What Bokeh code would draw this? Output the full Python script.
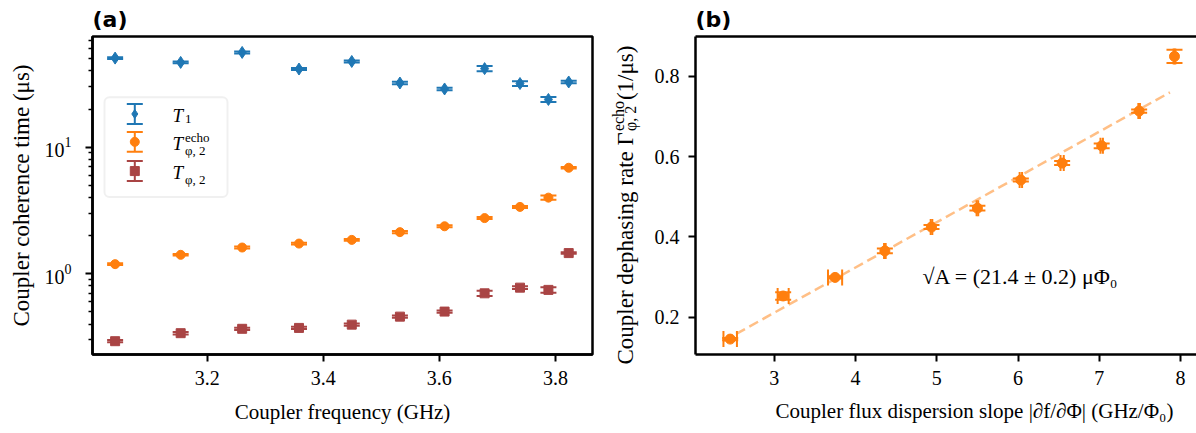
import numpy as np
from bokeh.plotting import figure
from bokeh.models import (Whisker, TeeHead, ColumnDataSource, FixedTicker, Label, BoxAnnotation,
                          Range1d, LinearAxis, Title)
from bokeh.layouts import row
from bokeh.embed import file_html
from bokeh.resources import INLINE

# ---------------- data: panel (a) ----------------
freq_ghz = [3.041, 3.154, 3.260, 3.358, 3.449, 3.532, 3.609, 3.678, 3.739, 3.788, 3.823]
t1_us = [50.5, 46.7, 56.0, 41.4, 47.5, 32.1, 28.8, 41.7, 31.8, 23.8, 32.7]
t1_err = [0.8, 0.8, 1.0, 0.8, 0.8, 0.7, 0.6, 2.0, 1.4, 1.1, 0.7]
techo_us = [1.19, 1.41, 1.61, 1.73, 1.85, 2.13, 2.37, 2.75, 3.37, 3.99, 6.87]
techo_err = [0.02, 0.02, 0.03, 0.03, 0.03, 0.04, 0.04, 0.05, 0.06, 0.15, 0.09]
tphi_us = [0.293, 0.339, 0.367, 0.373, 0.396, 0.458, 0.502, 0.700, 0.776, 0.745, 1.455]
tphi_err = [0.006, 0.008, 0.008, 0.008, 0.008, 0.010, 0.010, 0.032, 0.020, 0.038, 0.020]

# ---------------- data: panel (b) ----------------
slope_ghz_phi0 = [2.457, 3.109, 3.748, 4.361, 4.935, 5.500, 6.035, 6.543, 7.030, 7.491, 7.926]
slope_err = [0.083, 0.068, 0.087, 0.010, 0.010, 0.010, 0.015, 0.020, 0.015, 0.010, 0.010]
rate_inv_us = [0.1454, 0.2527, 0.299, 0.365, 0.4244, 0.4715, 0.5416, 0.5837, 0.6267, 0.7133, 0.8495]
rate_err = [0.003, 0.0095, 0.003, 0.006, 0.005, 0.006, 0.004, 0.005, 0.006, 0.004, 0.0165]
fit_slope = 0.1127
fit_intercept = -0.127
fit_x_ends = [2.37, 7.87]

a_xticks = [3.2, 3.4, 3.6, 3.8]
a_yticks = [1, 10]
a_yminor = [0.3, 0.4, 0.5, 0.6, 0.7, 0.8, 0.9, 2, 3, 4, 5, 6, 7, 8, 9, 20, 30, 40, 50, 60, 70]
b_xticks = [3, 4, 5, 6, 7, 8]
b_yticks = [0.2, 0.4, 0.6, 0.8]

SERIF = "Liberation Serif"
C_T1 = "#1f77b4"
C_ECHO = "#ff7f0e"
C_PHI = "#a94444"

H = 433
A_W = 605
A_L, A_R, A_T, A_B = 92, 592, 35, 354
S_X0, S_W = 605, 40          # strip holding the rotated y label of panel (b)
B_X0 = S_X0 + S_W
B_W = 1196 - B_X0
B_L, B_R, B_T, B_B = 695, 1196, 35, 355

XA = (3.002, 3.864)
YA = (0.230, 74.8)
XB = (2.03, 8.197)
YB = (0.107, 0.899)


def ax(px):
    return XA[0] + (px - A_L) / (A_R - A_L) * (XA[1] - XA[0])


def ay(py):
    lo, hi = np.log10(YA[0]), np.log10(YA[1])
    return 10 ** (lo + (A_B - py) / (A_B - A_T) * (hi - lo))


def bx(px):
    return XB[0] + (px - B_L) / (B_R - B_L) * (XB[1] - XB[0])


def by(py):
    return YB[0] + (B_B - py) / (B_B - B_T) * (YB[1] - YB[0])


def style(p):
    p.grid.visible = False
    p.background_fill_color = "white"
    p.border_fill_color = "white"
    for a in p.axis:
        a.axis_line_color = "black"
        a.axis_line_width = 2.5
        a.major_tick_out = 7
        a.major_tick_in = 0
        a.major_tick_line_width = 2
        a.minor_tick_out = 4
        a.minor_tick_in = 0
        a.minor_tick_line_width = 1.5
        a.major_label_text_font = SERIF
        a.major_label_text_font_size = "20px"
        a.major_label_text_color = "black"
        a.major_label_standoff = 9
        a.axis_label_text_font = SERIF
        a.axis_label_text_font_size = "21px"
        a.axis_label_text_font_style = "normal"
        a.axis_label_text_color = "black"
    p.title.text_font = "DejaVu Sans"
    p.title.text_font_style = "bold"
    p.title.text_font_size = "22px"
    p.title.text_color = "black"
    p.title.align = "left"
    p.title.standoff = 9
    p.title.offset = 0


def lab(p, x, y, text, size, style_="normal", angle=0.0, font=SERIF, align="left", baseline="alphabetic"):
    p.add_layout(Label(x=x, y=y, text=text, text_font=font, text_font_size=f"{size}px",
                       text_font_style=style_, angle=angle, text_align=align,
                       text_baseline=baseline, text_color="black"))


def errbars(p, xs, ys, err, color, dim):
    xs = np.asarray(xs, float)
    ys = np.asarray(ys, float)
    err = np.asarray(err, float)
    if dim == "height":
        src = ColumnDataSource(dict(base=xs, lo=ys - err, hi=ys + err))
    else:
        src = ColumnDataSource(dict(base=ys, lo=xs - err, hi=xs + err))
    p.add_layout(Whisker(source=src, base="base", upper="hi", lower="lo", dimension=dim,
                         line_color=color, line_width=2, level="underlay",
                         upper_head=TeeHead(size=16, line_color=color, line_width=2),
                         lower_head=TeeHead(size=16, line_color=color, line_width=2)))


# ================= panel (a) =================
pa = figure(width=A_W, height=H, x_range=Range1d(*XA), y_range=Range1d(*YA), y_axis_type="log",
            output_backend="svg", toolbar_location=None, title="(a)",
            min_border_left=A_L, min_border_right=A_W - A_R, min_border_top=A_T, min_border_bottom=H - A_B)
style(pa)
pa.outline_line_color = "black"
pa.outline_line_width = 2.5
pa.outline_line_alpha = 1
pa.xaxis.ticker = FixedTicker(ticks=a_xticks)
pa.yaxis.ticker = FixedTicker(ticks=a_yticks, minor_ticks=a_yminor)
pa.xaxis.axis_label = "Coupler frequency (GHz)"
pa.yaxis.axis_label = "Coupler coherence time (μs)"
pa.yaxis.axis_label_text_font_size = "23px"
pa.yaxis.major_label_standoff = 14
pa.yaxis.axis_label_standoff = 8
pa.xaxis.axis_label_standoff = 12

pa.add_layout(BoxAnnotation(left=ax(104), right=ax(227), top=ay(96), bottom=ay(196),
                            fill_color="white", fill_alpha=0.8, line_color="#cccccc",
                            line_width=2, border_radius=5, level="underlay"))

errbars(pa, freq_ghz, t1_us, t1_err, C_T1, "height")
errbars(pa, freq_ghz, techo_us, techo_err, C_ECHO, "height")
errbars(pa, freq_ghz, tphi_us, tphi_err, C_PHI, "height")
pa.scatter(freq_ghz, t1_us, marker="diamond", size=12, color=C_T1)
pa.scatter(freq_ghz, techo_us, marker="circle", size=9, color=C_ECHO)
pa.scatter(freq_ghz, tphi_us, marker="square", size=9, color=C_PHI)

# legend samples
leg_x = ax(134.3)
leg_y = [112.7, 140.7, 170.0]
leg_cols = [C_T1, C_ECHO, C_PHI]
leg_marks = ["diamond", "circle", "square"]
for yy, cc, mm in zip(leg_y, leg_cols, leg_marks):
    src = ColumnDataSource(dict(base=[leg_x], lo=[ay(yy + 10)], hi=[ay(yy - 10)]))
    pa.add_layout(Whisker(source=src, base="base", upper="hi", lower="lo", dimension="height",
                          line_color=cc, line_width=2, level="underlay",
                          upper_head=TeeHead(size=16, line_color=cc, line_width=2),
                          lower_head=TeeHead(size=16, line_color=cc, line_width=2)))
    pa.scatter([leg_x], [ay(yy)], marker=mm, size=9, color=cc)

tx = ax(172.0)
sx = ax(184.5)
lab(pa, tx, ay(114.5), "T", 19, "italic")
lab(pa, sx, ay(118.0), "1", 13)
lab(pa, tx, ay(142.5), "T", 19, "italic")
lab(pa, sx, ay(136.0), "echo", 13)
lab(pa, sx, ay(149.5), "φ, 2", 13)
lab(pa, tx, ay(171.0), "T", 19, "italic")
lab(pa, sx, ay(178.5), "φ, 2", 13)

# ================= strip with rotated y label of panel (b) =================
ps = figure(frame_width=S_W, frame_height=H, x_range=Range1d(S_X0, S_X0 + S_W), y_range=Range1d(0, H),
            output_backend="svg", toolbar_location=None, x_axis_location=None, y_axis_location=None,
            title=None, min_border=0, min_border_left=0, min_border_right=0,
            min_border_top=0, min_border_bottom=0)
ps.grid.visible = False
ps.outline_line_color = None
ps.background_fill_color = "white"
ps.border_fill_color = "white"

# measured offset of rotated text rendering (screen px)
RDX, RDY = -9.0, -32.0


def rlab(px, py, text, size):
    lab(ps, px + RDX, H - (py + RDY), text, size, angle=np.pi / 2)


FS = 23
y0 = 360.0
main_w = 10.104 * FS
rlab(633.5, y0, "Coupler dephasing rate Γ", FS)
rlab(626.5, y0 - main_w - 1, "echo", 16)
rlab(638.5, y0 - main_w - 1, "φ, 2", 16)
rlab(633.5, y0 - main_w - 32, " (1/μs)", FS)

# ================= panel (b) =================
pb = figure(width=B_W, height=H, x_range=Range1d(*XB), y_range=Range1d(*YB),
            output_backend="svg", toolbar_location=None, title="(b)",
            min_border_left=B_L - B_X0, min_border_right=0,
            min_border_top=B_T, min_border_bottom=H - B_B)
pb.outline_line_color = None
top_axis = LinearAxis(ticker=FixedTicker(ticks=[]), major_label_text_font_size="0px",
                      major_tick_out=0, major_tick_in=0, minor_tick_out=0, minor_tick_in=0,
                      major_label_standoff=0)
pb.add_layout(top_axis, "above")
style(pb)
pb.xaxis.ticker = FixedTicker(ticks=b_xticks)
pb.yaxis.ticker = FixedTicker(ticks=b_yticks)
top_axis.ticker = FixedTicker(ticks=[])
top_axis.major_label_text_font_size = "0px"
top_axis.major_tick_out = 0
top_axis.minor_tick_out = 0
top_axis.major_label_standoff = 0

pb.add_layout(Title(text="Coupler flux dispersion slope |∂f/∂Φ| (GHz/Φ₀)", align="left",
                    offset=80, text_font=SERIF, text_font_size="21px", text_font_style="normal",
                    text_color="black", standoff=18), "below")

fx = np.array(fit_x_ends)
pb.line(fx, fit_slope * fx + fit_intercept, line_color=C_ECHO, line_alpha=0.5,
        line_width=2.5, line_dash="10 5")
errbars(pb, slope_ghz_phi0, rate_inv_us, rate_err, C_ECHO, "height")
errbars(pb, slope_ghz_phi0, rate_inv_us, slope_err, C_ECHO, "width")
pb.scatter(slope_ghz_phi0, rate_inv_us, marker="circle", size=10, color=C_ECHO)

lab(pb, bx(922), by(276.7), "√A = (21.4 ± 0.2) μΦ₀", 22)

layout = row(pa, ps, pb)
open("out.html", "w").write(file_html(layout, INLINE))
